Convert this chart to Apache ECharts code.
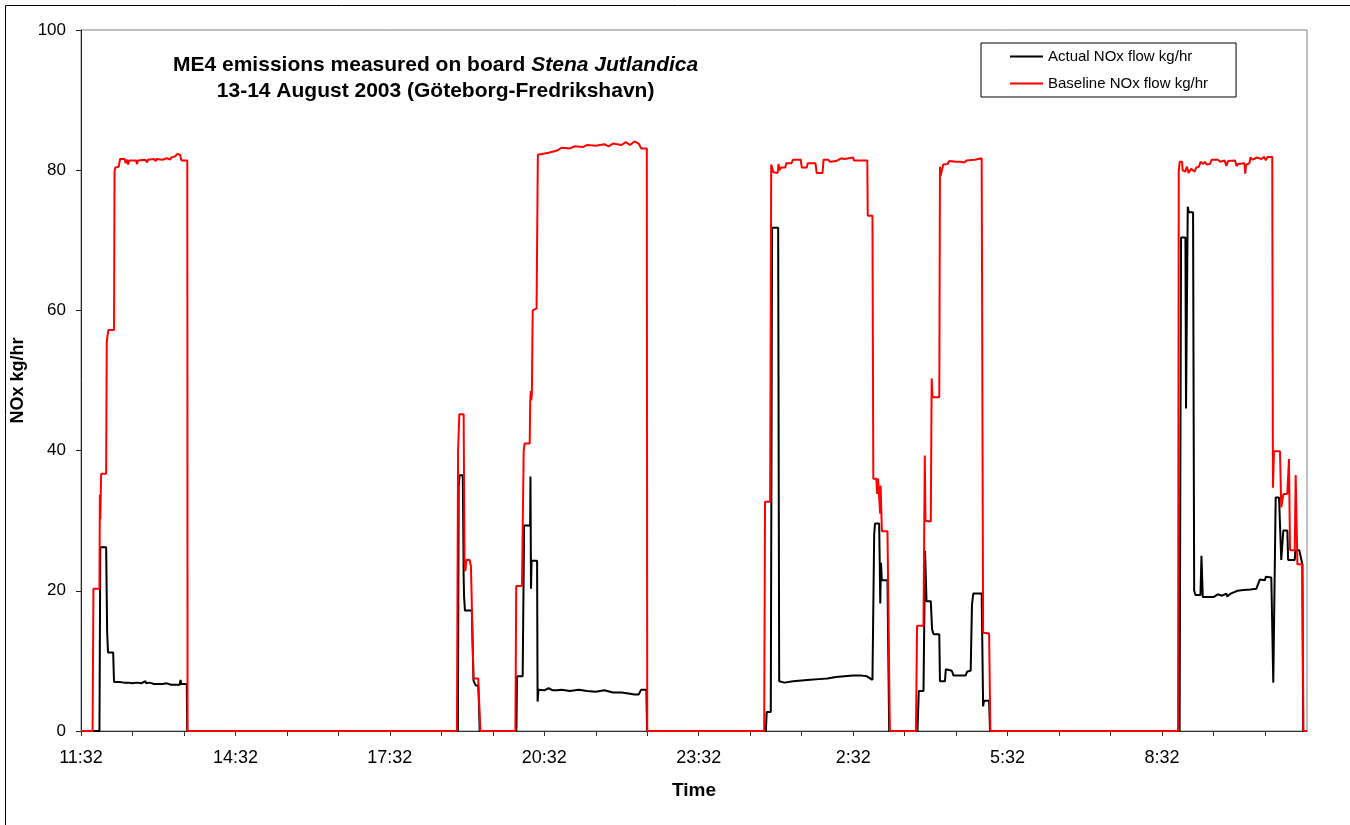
<!DOCTYPE html>
<html>
<head>
<meta charset="utf-8">
<script src="https://cdn.jsdelivr.net/npm/echarts@6/dist/echarts.min.js"></script>
<style>
  html, body { margin: 0; padding: 0; background: #fff; }
  #chart { width: 1350px; height: 825px; }
</style>
</head>
<body>
<div id="chart"></div>
<script>
// x values are minutes after 11:32 on 13 August 2003
var timeLabels = ['11:32', '14:32', '17:32', '20:32', '23:32', '2:32', '5:32', '8:32'];

// Actual NOx flow kg/hr  [minute, value]
var actualFlow = [
  [0,0],[21.5,0],[22.5,26.2],[29.3,26.2],[30.5,14],[31.5,11.2],[37.5,11.2],[38.5,7.0],[45,7.0],[50,6.9],
  [55,6.9],[60,6.8],[65,6.9],[70,6.8],[75,7.1],[76,6.8],[80,6.9],[85,6.7],[95,6.7],[100,6.8],[105,6.6],
  [110,6.6],[115,6.6],[116,7.3],[117,6.7],[123.3,6.7],[123.8,0],
  [439.3,0],[440.2,34.9],[441.3,36.5],[445,36.5],[446,22],[446.5,19.2],[447.5,17.2],[455.5,17.2],
  [457.5,7.2],[460,6.5],[463,6.5],[463.8,4],[464.7,0],
  [507.5,0],[508.2,7.8],[514.8,7.8],[516.5,29.3],[523.5,29.3],[523.9,36.3],[524.5,20.3],[525.2,24.3],
  [531.6,24.3],[532.2,4.2],[533.2,5.9],[540,5.8],[545,6.1],[550,5.8],[555,5.8],[560,5.9],[570,5.7],
  [580,5.9],[590,5.7],[600,5.6],[610,5.8],[620,5.5],[630,5.5],[640,5.3],[645,5.2],[650,5.2],[653,5.9],
  [659,5.9],[659.8,0],
  [798.3,0],[799.2,2.7],[804,2.7],[805.5,71.8],[812.6,71.8],[813.8,7.1],[820,6.9],[830,7.1],[840,7.2],
  [850,7.3],[860,7.4],[870,7.5],[880,7.7],[890,7.8],[900,7.9],[910,7.9],[916,7.8],[922.5,7.3],
  [924.5,28],[925.5,29.6],[930.3,29.6],[931,24],[931.6,18.2],[932.4,24],[933.5,21.5],[940,21.5],[942,0],
  [975,0],[976.5,5.7],[982,5.7],[983.8,25.7],[985.5,18.5],[990.5,18.5],[992,14.5],[993.8,13.8],
  [1000.4,13.8],[1001.2,7.1],[1007,7.1],[1008,8.8],[1015,8.6],[1017,7.9],[1031,7.9],[1033,8.5],
  [1037,8.6],[1038.5,18],[1040,19.6],[1049.8,19.6],[1051.5,3.5],[1052.5,4.3],[1058.5,4.3],[1059.5,0],
  [1280.5,0],[1282.2,70.4],[1287.3,70.4],[1288,46],[1290,74.8],[1291.2,74],[1296.2,74],[1297.5,20],
  [1299,19.4],[1304.8,19.4],[1306,25],[1307.5,19.1],[1320,19.1],[1325,19.5],[1330,19.3],[1335,19.6],
  [1336,19.2],[1340,19.6],[1348,20],[1355,20.1],[1363,20.2],[1370,20.3],[1374,21.6],[1380,21.5],
  [1381,22],[1387.4,21.9],[1389.7,6.9],[1392.5,33.3],[1396.4,33.3],[1399,24.4],[1401.4,28.6],
  [1406.1,28.6],[1407,24.4],[1414.7,24.4],[1415.5,25.8],[1420,25.8],[1423.6,23.8],[1424.5,0],[1429,0]
];

// Baseline NOx flow kg/hr  [minute, value]
var baselineFlow = [
  [0,0],[13.5,0],[14.5,20.3],[21.5,20.3],[22,33.7],[22.5,30.2],[23,33.5],[23.5,36.7],[29.3,36.7],
  [30,55.5],[31,56.5],[32,57.2],[38.5,57.2],[39.1,79.8],[40,80.4],[44,80.5],[45.5,81.6],[51,81.6],
  [52,81],[53.5,81.5],[55,80.8],[56,81.4],[64,81.4],[65.3,80.9],[66.5,81.4],[75,81.5],[77,81.1],
  [78,81.5],[85,81.6],[87,81.3],[88,81.6],[95,81.5],[100,81.7],[104,81.5],[105,81.8],[110,82],
  [112,82.3],[115.5,82.2],[117,81.4],[123.9,81.4],[124.2,0],
  [438.2,0],[439.5,40],[441,45.2],[446,45.2],[447,24],[448,22.8],[449,24.4],[453,24.4],[454.5,23.5],
  [457.5,7.5],[463,7.5],[465.5,0],
  [506.3,0],[507.3,20.7],[514,20.7],[516,40],[517,41],[523,41],[523.6,47],[524.2,48.5],[524.8,47.2],
  [525.5,48],[526.5,60],[531,60.3],[532.5,82.2],[545,82.5],[555,82.8],[560,83.2],[570,83.1],
  [575,83.4],[585,83.3],[590,83.6],[600,83.5],[610,83.7],[615,83.4],[620,83.8],[630,83.6],[635,84],
  [640,83.6],[645,84.1],[650,83.8],[653,83.1],[659.5,83.1],[660,0],
  [796.3,0],[797.3,32.7],[803.2,32.7],[804.5,80.8],[806,81],[807,79.7],[812,79.6],[813,80.9],[814,80],
  [816,80.4],[821,80.4],[822,81],[828,81],[830,81.5],[839,81.5],[840,80.4],[846,80.4],[847,81],
  [856,81],[857.5,79.6],[864.3,79.6],[865.5,81.5],[871,81.5],[873,81.2],[880,81.3],[886,81.7],
  [890,81.6],[892,81.8],[900,81.8],[901,81.4],[916.5,81.4],[917,73.5],[922.5,73.5],[923.5,36],
  [927,36],[928,33.8],[929,36],[930.5,33],[931.5,31],[932,35],[933.5,28.5],[940,28.5],[942.8,0],
  [973.2,0],[974.5,15],[982,15],[983.5,39.3],[984.3,30],[990.5,29.9],[991.5,50.3],[992.5,47.6],
  [1000.4,47.6],[1001.2,80.5],[1002,79.2],[1004,79],[1005,80.8],[1010,80.9],[1012,81.3],[1020,81.2],
  [1022,81],[1025,81.2],[1030,81.1],[1032,81.4],[1042,81.5],[1044,81.7],[1049.8,81.7],[1051.5,14],
  [1058.5,13.9],[1059.9,0],
  [1278.7,0],[1279.5,79.9],[1280.6,81.2],[1283.4,81.2],[1284,80],[1286,80.2],[1287,79.8],[1289,80.5],
  [1291,79.6],[1294,80.2],[1298,79.8],[1300,80.4],[1303,80.5],[1305,81.2],[1308,80.9],[1310,81.2],
  [1312,80.8],[1316,80.9],[1318,81.5],[1325,81.5],[1328,81.2],[1333,81.4],[1335,80.6],[1337,81.3],
  [1345,81.4],[1347,80.6],[1349,80.9],[1356,81],[1357,79.5],[1358,80.8],[1362,81],[1363,81.8],
  [1366,81.5],[1370,81.8],[1376,81.6],[1379,81.9],[1381,81.4],[1383,81.9],[1388.5,81.9],[1389.3,34.7],
  [1390.5,39.9],[1397.5,39.9],[1399,31.9],[1401.4,33.8],[1406,33.8],[1408,38.8],[1409.2,25.8],
  [1414.7,25.8],[1415.8,36.5],[1417.8,23.8],[1423.6,23.8],[1424.8,0],[1429,0]
];

var font = 'Liberation Sans';
var chart = echarts.init(document.getElementById('chart'));

chart.setOption({
  animation: false,
  backgroundColor: '#fff',
  textStyle: { fontFamily: font },
  graphic: [
    { type: 'line', shape: { x1: 5.5, y1: 5.5, x2: 1350, y2: 5.5 }, style: { stroke: '#000', lineWidth: 1 } },
    { type: 'line', shape: { x1: 5.5, y1: 5.5, x2: 5.5, y2: 825 }, style: { stroke: '#000', lineWidth: 1 } },
    {
      type: 'text', left: 443 - 270, top: 55,
      style: {
        text: '{b|ME4 emissions measured on board }{i|Stena Jutlandica}\n{b|13-14 August 2003 (Göteborg-Fredrikshavn)}',
        width: 540,
        align: 'center',
        rich: {
          b: { fontFamily: font, fontSize: 21, fontWeight: 'bold', fill: '#000', lineHeight: 26, align: 'center' },
          i: { fontFamily: font, fontSize: 21, fontWeight: 'bold', fontStyle: 'italic', fill: '#000', lineHeight: 26, align: 'center' }
        }
      }
    }
  ],
  legend: {
    orient: 'vertical',
    left: 981, top: 43,
    padding: [6, 28, 6, 29],
    itemGap: 12,
    itemWidth: 33, itemHeight: 2,
    icon: 'rect',
    borderColor: '#000', borderWidth: 1,
    textStyle: { fontFamily: font, fontSize: 15, color: '#000' },
    data: ['Actual NOx flow kg/hr', 'Baseline NOx flow kg/hr']
  },
  grid: {
    left: 81, right: 43, top: 30, bottom: 94,
    show: true, borderColor: '#808080', borderWidth: 1
  },
  xAxis: {
    type: 'value', min: 0, max: 1429, interval: 60,
    name: 'Time', nameLocation: 'middle', nameGap: 50,
    nameTextStyle: { fontFamily: font, fontSize: 19, fontWeight: 'bold', color: '#000' },
    axisLine: { onZero: false, lineStyle: { color: '#333', width: 1 } },
    axisTick: { length: 5, lineStyle: { color: '#333' } },
    splitLine: { show: false },
    axisLabel: {
      margin: 18, fontSize: 18, color: '#000', showMaxLabel: false,
      formatter: function (v) {
        if (v % 180 !== 0) return '';
        return timeLabels[v / 180] || '';
      }
    }
  },
  yAxis: {
    type: 'value', min: 0, max: 100, interval: 20,
    name: 'NOx kg/hr', nameLocation: 'middle', nameGap: 51,
    nameTextStyle: { fontFamily: font, fontSize: 18, fontWeight: 'bold', color: '#000' },
    axisLine: { show: true, lineStyle: { color: '#222', width: 1 } },
    axisTick: { show: true, length: 5, lineStyle: { color: '#222' } },
    splitLine: { show: false },
    axisLabel: { margin: 15, fontSize: 17, color: '#000' }
  },
  series: [
    {
      name: 'Actual NOx flow kg/hr', type: 'line', data: actualFlow,
      showSymbol: false, symbol: 'none',
      lineStyle: { color: '#000', width: 2 }, itemStyle: { color: '#000' }
    },
    {
      name: 'Baseline NOx flow kg/hr', type: 'line', data: baselineFlow,
      showSymbol: false, symbol: 'none',
      lineStyle: { color: '#ff0000', width: 2 }, itemStyle: { color: '#ff0000' }
    }
  ]
});
</script>
</body>
</html>
